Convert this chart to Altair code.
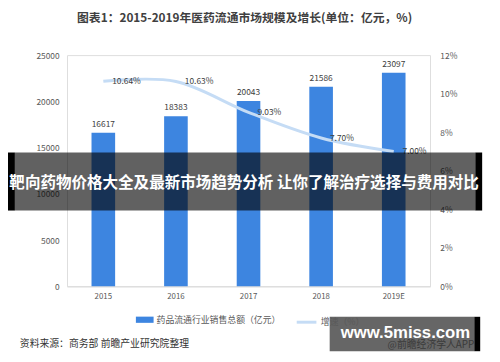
import altair as alt
import pandas as pd

years = ["2015", "2016", "2017", "2018", "2019E"]
sales = [16617, 18383, 20043, 21586, 23097]
rates = [10.64, 10.63, 9.03, 7.70, 7.00]
bar_series = "药品流通行业销售总额（亿元）"
line_series = "增速（%）"
title_text = "图表1：2015-2019年医药流通市场规模及增长(单位：亿元，%)"
source_text = "资料来源：商务部 前瞻产业研究院整理"
banner_text = "靶向药物价格大全及最新市场趋势分析 让你了解治疗选择与费用对比"
wm_text = "www.5miss.com"
wm_sub = "@前瞻经济学人APP"

FONT = "Noto Sans CJK SC"
BLUE = "#3d85e0"
LIGHT = "#c5dcf5"

df = pd.DataFrame({"year": years, "sales": sales, "rate": rates,
                   "s1": bar_series, "s2": line_series})

X = alt.X("year:N", sort=years, title=None,
          scale=alt.Scale(paddingInner=0.675, paddingOuter=0.3375),
          axis=alt.Axis(labelAngle=0, ticks=False, domainColor="#d9d9d9",
                        labelFontSize=8, labelColor="#595959", labelPadding=6,
                        labelFont=FONT, grid=False))

yl = alt.Y("sales:Q", title=None,
           scale=alt.Scale(domain=[0, 25000]),
           axis=alt.Axis(orient="left", values=[0, 5000, 10000, 15000, 20000, 25000],
                         format="d", ticks=False, domain=False, grid=False,
                         labelFontSize=8.5, labelColor="#595959", labelPadding=8,
                         labelFont=FONT))

yr = alt.Y("rate:Q", title=None, scale=alt.Scale(domain=[0, 12]),
           axis=alt.Axis(orient="right", values=[0, 2, 4, 6, 8, 10, 12],
                         labelExpr="datum.value + '%'", ticks=False, domain=False,
                         grid=False, labelFontSize=8.5, labelColor="#595959",
                         labelPadding=10, labelFont=FONT))

bars = alt.Chart(df).mark_bar(size=24).encode(
    x=X, y=yl,
    fill=alt.Fill("s1:N", scale=alt.Scale(domain=[bar_series], range=[BLUE]),
                  legend=alt.Legend(orient="none", legendX=70, legendY=260, title=None,
                                    symbolType="M-1,-0.35H1V0.35H-1Z", symbolSize=324,
                                    symbolStrokeWidth=0, labelFontSize=9,
                                    labelColor="#595959", labelFont=FONT, labelOffset=3,
                                    padding=0))
)
bar_text = alt.Chart(df).mark_text(baseline="bottom", dy=-4, fontSize=8.5,
                                   color="#404040", font=FONT).encode(
    x=X, y=yl,
    text=alt.Text("sales:Q", format="d"))

line = alt.Chart(df).mark_line(interpolate="cardinal", strokeWidth=3).encode(
    x=X, y=yr,
    stroke=alt.Stroke("s2:N", scale=alt.Scale(domain=[line_series], range=[LIGHT]),
                      legend=alt.Legend(orient="none", legendX=232, legendY=260, title=None,
                                        symbolType="stroke", symbolSize=400,
                                        symbolStrokeWidth=3, labelFontSize=9,
                                        labelColor="#595959", labelFont=FONT,
                                        labelOffset=3, padding=0))
)
line_text = alt.Chart(df).transform_calculate(
    lab="format(datum.rate, '.2f') + '%'"
).mark_text(align="left", baseline="middle", dx=9, fontSize=8.5,
            color="#404040", font=FONT).encode(
    x=X, y=yr,
    text="lab:N")

one = pd.DataFrame({"t": [0]})

title = alt.Chart(one).mark_text(text=title_text, font=FONT, fontSize=12,
                                 fontWeight="bold", color="#404040",
                                 align="center", baseline="middle").encode(
    x=alt.value(180.5), y=alt.value(-38))
source = alt.Chart(one).mark_text(text=source_text, font=FONT, fontSize=10,
                                  color="#333333", align="left",
                                  baseline="middle").encode(
    x=alt.value(-48), y=alt.value(294))

banner = alt.Chart(one).mark_rect(color="#000000", opacity=0.62).encode(
    x=alt.value(-53), x2=alt.value(415), y=alt.value(99), y2=alt.value(158))
banner_l = alt.Chart(one).mark_rect(color="#000000").encode(
    x=alt.value(-60), x2=alt.value(-53), y=alt.value(99), y2=alt.value(158))
banner_r = alt.Chart(one).mark_rect(color="#000000").encode(
    x=alt.value(415), x2=alt.value(422), y=alt.value(99), y2=alt.value(158))
banner_t = alt.Chart(one).mark_text(text=banner_text, font=FONT, fontSize=15.8,
                                    fontWeight="bold", color="#ffffff",
                                    align="center", baseline="middle").encode(
    x=alt.value(180), y=alt.value(130))

wm_box = alt.Chart(one).mark_rect(color="#666666").encode(
    x=alt.value(267), x2=alt.value(414), y=alt.value(266), y2=alt.value(301))
wm_strip = alt.Chart(one).mark_rect(color="#000000").encode(
    x=alt.value(414), x2=alt.value(420), y=alt.value(266), y2=alt.value(301))
wm_t = alt.Chart(one).mark_text(text=wm_text, font="Liberation Sans", fontSize=17,
                                fontWeight="bold", color="#ffffff",
                                align="center", baseline="middle").encode(
    x=alt.value(344), y=alt.value(283))
wm_s = alt.Chart(one).mark_text(text=wm_sub, font=FONT, fontSize=10,
                                color="#3a3a3a", align="right",
                                baseline="middle").encode(
    x=alt.value(414), y=alt.value(295))

chart = alt.layer(
    alt.layer(bars, bar_text),
    alt.layer(line, line_text),
    title, source, banner, banner_l, banner_r, banner_t,
    wm_box, wm_strip, wm_t, wm_s
).resolve_scale(y="independent", fill="independent", stroke="independent").properties(
    width=369, height=235, autosize="none",
    padding={"left": 60, "top": 45, "right": 63, "bottom": 70}
).configure_view(stroke=None).configure(font=FONT, background="#ffffff")

chart.save("out.html", embed_options={"renderer": "svg", "actions": False})
